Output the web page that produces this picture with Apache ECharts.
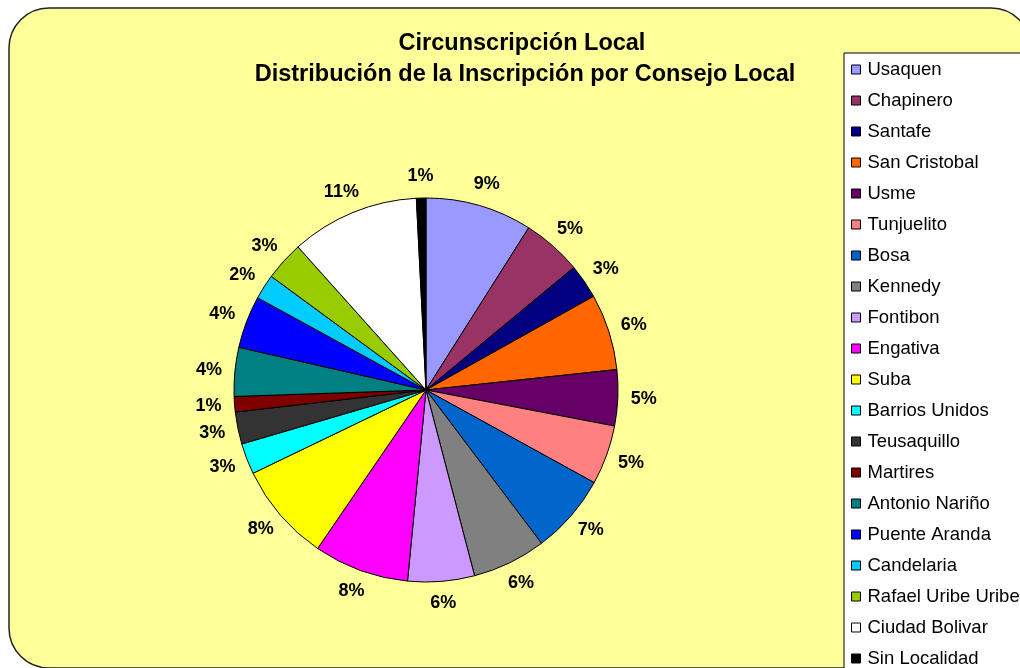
<!DOCTYPE html>
<html>
<head>
<meta charset="utf-8">
<script src="https://cdn.jsdelivr.net/npm/echarts@6/dist/echarts.min.js"></script>
<style>
html,body{margin:0;padding:0;background:#fff;}
#c{width:1020px;height:668px;}
</style>
</head>
<body>
<div id="c"></div>
<script>
var titleLines = ['Circunscripción Local', 'Distribución de la Inscripción por Consejo Local'];
var categories = ['Usaquen','Chapinero','Santafe','San Cristobal','Usme','Tunjuelito','Bosa','Kennedy','Fontibon','Engativa','Suba','Barrios Unidos','Teusaquillo','Martires','Antonio Nariño','Puente Aranda','Candelaria','Rafael Uribe Uribe','Ciudad Bolivar','Sin Localidad'];
var values = [8.97, 5.0, 2.9, 6.4, 4.7, 5.0, 6.7, 6.2, 5.6, 8.0, 8.3, 2.6, 2.7, 1.3, 4.1, 4.4, 2.1, 3.3, 10.8, 0.8];
var colors = ['#9999FF','#993366','#000080','#FF6600','#660066','#FF8080','#0066CC','#808080','#CC99FF','#FF00FF','#FFFF00','#00FFFF','#333333','#800000','#008080','#0000FF','#00CCFF','#99CC00','#FFFFFF','#000000'];

var CX = 426, CY = 390, R = 192, GAP = 13;
var total = values.reduce(function(a,b){return a+b;},0);
var cum = [];
(function(){var s=0; for (var i=0;i<values.length;i++){cum.push(s); s+=values[i];}})();

var chart = echarts.init(document.getElementById('c'), null, {renderer:'canvas'});
chart.setOption({
  animation: false,
  backgroundColor: '#ffffff',
  color: colors,
  graphic: [
    {type:'rect', z:-10, shape:{x:9, y:8, width:1022, height:660, r:40}, style:{fill:'#FFFF99', stroke:'#222', lineWidth:1.5}},
    {type:'text', z:10, style:{x:522, y:44, text:titleLines[0], align:'center', verticalAlign:'middle', font:'bold 23.5px "Liberation Sans", Arial, sans-serif', fill:'#000'}},
    {type:'text', z:10, style:{x:525, y:75, text:titleLines[1], align:'center', verticalAlign:'middle', font:'bold 23.5px "Liberation Sans", Arial, sans-serif', fill:'#000'}}
  ],
  legend: {
    orient: 'vertical',
    left: 844, top: 53, height: 640,
    padding: [7, 40, 8, 7],
    backgroundColor: '#ffffff',
    borderColor: '#000', borderWidth: 1, borderRadius: 0,
    itemWidth: 9, itemHeight: 9, itemGap: 12,
    icon: 'rect',
    itemStyle: {borderColor:'#000', borderWidth:1},
    textStyle: {fontFamily:'"Liberation Sans", Arial, sans-serif', fontSize:18.5, lineHeight:18, color:'#000', padding:[0,0,0,2]},
    data: categories
  },
  series: [{
    type: 'pie',
    center: [CX, CY],
    radius: R,
    startAngle: 90,
    clockwise: true,
    avoidLabelOverlap: false,
    itemStyle: {borderColor:'#000', borderWidth:1},
    emphasis: {disabled: true},
    label: {
      show: true, position: 'outside',
      formatter: function(p){ return Math.round(p.percent) + '%'; },
      fontFamily: '"Liberation Sans", Arial, sans-serif',
      fontWeight: 'bold', fontSize: 18, color: '#000'
    },
    labelLine: {show: false, length: 5, length2: 0},
    labelLayout: function(p){
      var i = p.dataIndex;
      var th = (cum[i] + values[i]/2) / total * 2 * Math.PI;
      var dx = Math.sin(th), dy = -Math.cos(th);
      var w = p.labelRect.width, h = p.labelRect.height;
      return {
        x: CX + dx*(R+GAP) + dx*w/2,
        y: CY + dy*(R+GAP) + dy*h/2,
        align: 'center', verticalAlign: 'middle'
      };
    },
    data: categories.map(function(n,i){ return {name:n, value:values[i]}; })
  }]
});
</script>
</body>
</html>
